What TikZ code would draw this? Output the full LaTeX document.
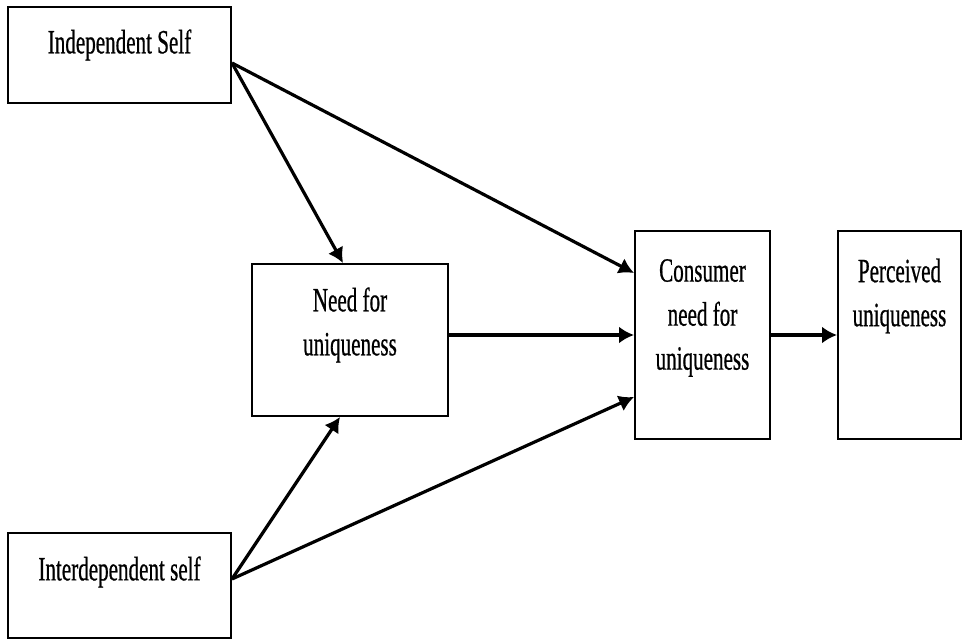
\documentclass[tikz,border=0pt]{standalone}
\usepackage{fontspec}
\setmainfont[FakeStretch=0.62,FakeBold=0.6]{Liberation Serif}
\usetikzlibrary{arrows.meta,positioning}

\begin{document}
\begin{tikzpicture}[x=1pt,y=-1pt,>={Latex[length=15pt,width=17pt]},
    box/.style={draw,line width=2pt,inner sep=0pt},
    txt/.style={align=center,inner sep=0pt,font=\fontsize{34}{44}\selectfont},
    link/.style={->,line width=3.2pt}]
    \useasboundingbox (0,0) rectangle (962,639);
    %%%%%%%%% boxes
    \node (is) [box,minimum width=223pt,minimum height=96pt] at (119.5,55) {};
    \node (ns) [box,minimum width=223pt,minimum height=105pt] at (119.5,585.5) {};
    \node (nu) [box,minimum width=196pt,minimum height=152pt] at (350,340) {};
    \node (cn) [box,minimum width=135pt,minimum height=208pt] at (702.5,335) {};
    \node (pu) [box,minimum width=123pt,minimum height=208pt] at (899.5,335) {};
    %%%%%%%%% texts
    \node (ist) [txt] at (119.5,45) {Independent Self};
    \node (nst) [txt] at (119.5,572) {Interdependent self};
    \node (nut) [txt] at (350,325) {Need for\\uniqueness};
    \node (cnt) [txt] at (702.5,318) {Consumer\\need for\\uniqueness};
    \node (put) [txt] at (899.5,296) {Perceived\\uniqueness};
    %%%%%%%%% arrows
        \draw[link] ([yshift=-8pt]is.east) -- ([xshift=-7pt]nu.north);
        \draw[link] ([yshift=-8pt]is.east) -- ([yshift=62pt]cn.west);
        \draw[link] (nu.east |- cn.west) -- (cn.west);
        \draw[link] ([yshift=6.5pt]ns.east) -- ([xshift=-10pt]nu.south);
        \draw[link] ([yshift=6.5pt]ns.east) -- ([yshift=-62pt]cn.west);
        \draw[link] (cn.east) -- (pu.west);
\end{tikzpicture}
\end{document}
